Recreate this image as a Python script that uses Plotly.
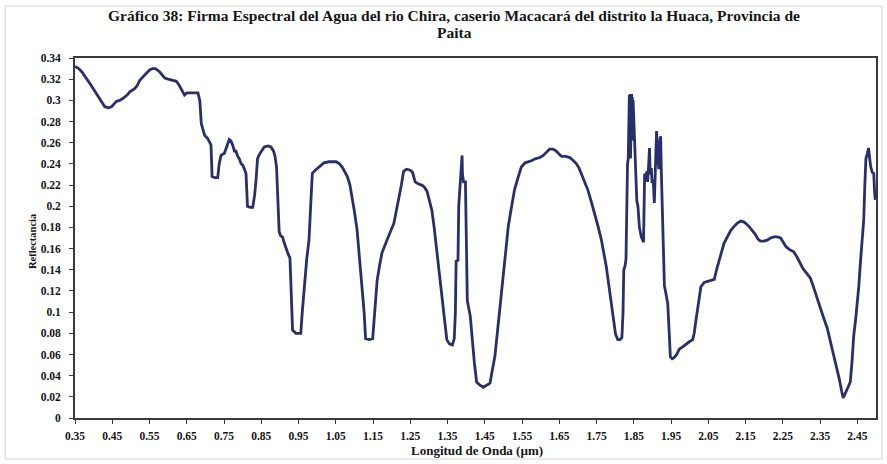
import plotly.graph_objects as go

# Spectral signature samples: wavelength (µm) and reflectance
wavelength = [
    0.350, 0.360, 0.368, 0.381, 0.390, 0.399, 0.408, 0.417, 0.430, 0.440, 0.448, 0.461, 0.470, 0.479,
    0.490, 0.497, 0.510, 0.517, 0.524, 0.537, 0.545, 0.551, 0.558, 0.566, 0.577, 0.585, 0.591, 0.600,
    0.610, 0.622, 0.630, 0.635, 0.644, 0.650, 0.665, 0.680, 0.685, 0.689, 0.698, 0.706, 0.715, 0.718,
    0.725, 0.733, 0.737, 0.742, 0.751, 0.758, 0.764, 0.768, 0.773, 0.778, 0.782, 0.787, 0.791, 0.796,
    0.800, 0.805, 0.809, 0.813, 0.820, 0.827, 0.832, 0.836, 0.840, 0.845, 0.852, 0.858, 0.868, 0.876,
    0.883, 0.887, 0.891, 0.895, 0.898, 0.902, 0.907, 0.912, 0.916, 0.922, 0.927, 0.931, 0.934, 0.943,
    0.956, 0.960, 0.965, 0.972, 0.978, 0.983, 0.987, 0.995, 1.001, 1.010, 1.018, 1.032, 1.051, 1.060,
    1.067, 1.075, 1.081, 1.088, 1.094, 1.100, 1.107, 1.114, 1.121, 1.126, 1.130, 1.140, 1.149, 1.155,
    1.161, 1.168, 1.174, 1.183, 1.192, 1.199, 1.206, 1.212, 1.219, 1.226, 1.232, 1.240, 1.250, 1.256,
    1.263, 1.272, 1.281, 1.288, 1.295, 1.302, 1.308, 1.314, 1.321, 1.328, 1.335, 1.342, 1.348, 1.355,
    1.363, 1.368, 1.371, 1.373, 1.378, 1.380, 1.384, 1.386, 1.389, 1.390, 1.393, 1.398, 1.401, 1.403,
    1.411, 1.416, 1.422, 1.428, 1.437, 1.446, 1.455, 1.464, 1.470, 1.477, 1.485, 1.495, 1.504, 1.513,
    1.522, 1.530, 1.540, 1.548, 1.558, 1.567, 1.575, 1.587, 1.598, 1.607, 1.616, 1.624, 1.633, 1.642,
    1.650, 1.656, 1.667, 1.678, 1.688, 1.696, 1.703, 1.709, 1.718, 1.727, 1.736, 1.745, 1.754, 1.763,
    1.770, 1.776, 1.783, 1.790, 1.794, 1.797, 1.801, 1.807, 1.813, 1.818, 1.821, 1.823, 1.826, 1.829,
    1.831, 1.833, 1.835, 1.836, 1.837, 1.838, 1.839, 1.840, 1.841, 1.842, 1.843, 1.844, 1.845, 1.846,
    1.847, 1.848, 1.850, 1.852, 1.855, 1.858, 1.861, 1.865, 1.870, 1.873, 1.876, 1.879, 1.882, 1.885,
    1.887, 1.890, 1.892, 1.894, 1.897, 1.899, 1.902, 1.905, 1.908, 1.911, 1.914, 1.917, 1.919, 1.922,
    1.924, 1.927, 1.930, 1.932, 1.937, 1.941, 1.945, 1.948, 1.953, 1.958, 1.965, 1.972, 1.980, 1.990,
    1.999, 2.008, 2.012, 2.017, 2.021, 2.026, 2.030, 2.039, 2.048, 2.057, 2.066, 2.072, 2.079, 2.086,
    2.092, 2.101, 2.110, 2.119, 2.128, 2.137, 2.146, 2.153, 2.159, 2.168, 2.177, 2.183, 2.190, 2.199,
    2.208, 2.217, 2.226, 2.235, 2.244, 2.251, 2.258, 2.268, 2.279, 2.288, 2.297, 2.304, 2.311, 2.318,
    2.324, 2.331, 2.338, 2.345, 2.351, 2.360, 2.369, 2.376, 2.382, 2.389, 2.395, 2.402, 2.408, 2.412,
    2.416, 2.420, 2.426, 2.431, 2.436, 2.440, 2.445, 2.449, 2.454, 2.458, 2.463, 2.467, 2.470, 2.473,
    2.477, 2.480, 2.483, 2.486, 2.490, 2.494, 2.496, 2.498,
]

reflectance = [
    0.332, 0.330, 0.327, 0.321, 0.316, 0.311, 0.306, 0.302, 0.294, 0.293, 0.294, 0.299, 0.300, 0.302,
    0.305, 0.308, 0.311, 0.314, 0.319, 0.324, 0.327, 0.329, 0.330, 0.330, 0.327, 0.323, 0.321, 0.320,
    0.319, 0.318, 0.314, 0.311, 0.305, 0.307, 0.307, 0.307, 0.300, 0.278, 0.267, 0.264, 0.258, 0.228,
    0.227, 0.227, 0.240, 0.248, 0.250, 0.257, 0.263, 0.262, 0.258, 0.252, 0.252, 0.247, 0.245, 0.240,
    0.239, 0.235, 0.231, 0.200, 0.199, 0.199, 0.210, 0.225, 0.245, 0.249, 0.253, 0.256, 0.257, 0.256,
    0.252, 0.247, 0.237, 0.190, 0.176, 0.172, 0.171, 0.165, 0.160, 0.155, 0.151, 0.120, 0.083, 0.080,
    0.080, 0.100, 0.124, 0.150, 0.168, 0.200, 0.231, 0.234, 0.236, 0.239, 0.241, 0.242, 0.242, 0.240,
    0.237, 0.232, 0.228, 0.220, 0.209, 0.195, 0.178, 0.152, 0.124, 0.100, 0.075, 0.074, 0.075, 0.105,
    0.130, 0.145, 0.156, 0.164, 0.171, 0.178, 0.184, 0.194, 0.206, 0.220, 0.233, 0.235, 0.234, 0.232,
    0.223, 0.221, 0.220, 0.218, 0.214, 0.205, 0.196, 0.180, 0.159, 0.135, 0.111, 0.090, 0.074, 0.070,
    0.069, 0.075, 0.100, 0.148, 0.149, 0.200, 0.222, 0.225, 0.248, 0.230, 0.223, 0.223, 0.150, 0.111,
    0.096, 0.075, 0.052, 0.034, 0.031, 0.029, 0.031, 0.033, 0.045, 0.058, 0.085, 0.118, 0.150, 0.181,
    0.200, 0.216, 0.228, 0.237, 0.241, 0.242, 0.243, 0.245, 0.246, 0.248, 0.251, 0.254, 0.254, 0.252,
    0.249, 0.247, 0.247, 0.246, 0.243, 0.240, 0.236, 0.231, 0.223, 0.215, 0.204, 0.193, 0.181, 0.168,
    0.156, 0.143, 0.125, 0.108, 0.096, 0.086, 0.079, 0.074, 0.074, 0.076, 0.100, 0.140, 0.143, 0.150,
    0.200, 0.240, 0.245, 0.290, 0.250, 0.305, 0.260, 0.306, 0.245, 0.304, 0.255, 0.306, 0.262, 0.303,
    0.270, 0.300, 0.280, 0.269, 0.240, 0.205, 0.200, 0.180, 0.171, 0.168, 0.166, 0.231, 0.225, 0.233,
    0.223, 0.240, 0.255, 0.230, 0.236, 0.222, 0.225, 0.203, 0.240, 0.271, 0.250, 0.235, 0.260, 0.266,
    0.230, 0.193, 0.140, 0.125, 0.116, 0.108, 0.080, 0.058, 0.056, 0.057, 0.060, 0.065, 0.067, 0.070,
    0.072, 0.074, 0.080, 0.093, 0.102, 0.115, 0.124, 0.128, 0.129, 0.130, 0.131, 0.140, 0.148, 0.158,
    0.165, 0.171, 0.177, 0.181, 0.184, 0.186, 0.185, 0.183, 0.181, 0.177, 0.173, 0.169, 0.167, 0.167,
    0.168, 0.170, 0.171, 0.171, 0.170, 0.166, 0.162, 0.159, 0.157, 0.152, 0.146, 0.141, 0.138, 0.135,
    0.132, 0.125, 0.117, 0.109, 0.102, 0.094, 0.085, 0.075, 0.066, 0.057, 0.047, 0.036, 0.025, 0.019,
    0.022, 0.025, 0.029, 0.034, 0.055, 0.077, 0.092, 0.105, 0.125, 0.146, 0.167, 0.187, 0.220, 0.245,
    0.250, 0.255, 0.245, 0.237, 0.232, 0.231, 0.215, 0.206,
]

x_tick_values = [0.35, 0.45, 0.55, 0.65, 0.75, 0.85, 0.95, 1.05, 1.15, 1.25, 1.35, 1.45,
                 1.55, 1.65, 1.75, 1.85, 1.95, 2.05, 2.15, 2.25, 2.35, 2.45]
x_tick_labels = ["0.35", "0.45", "0.55", "0.65", "0.75", "0.85", "0.95", "1.05", "1.15", "1.25", "1.35",
                 "1.45", "1.55", "1.65", "1.75", "1.85", "1.95", "2.05", "2.15", "2.25", "2.35", "2.45"]
y_tick_values = [0, 0.02, 0.04, 0.06, 0.08, 0.1, 0.12, 0.14, 0.16, 0.18, 0.2, 0.22, 0.24, 0.26,
                 0.28, 0.3, 0.32, 0.34]
y_tick_labels = ["0", "0.02", "0.04", "0.06", "0.08", "0.1", "0.12", "0.14", "0.16", "0.18", "0.2",
                 "0.22", "0.24", "0.26", "0.28", "0.3", "0.32", "0.34"]

title_lines = ["Gráfico 38: Firma Espectral del Agua del rio Chira, caserio Macacará del distrito la Huaca, Provincia de",
               "Paita"]

W, H = 887, 464
ML, MR, MT, MB = 75, 9, 58, 46
serif = "Liberation Serif, Times New Roman, serif"
line_color = "#27306a"
text_color = "#151515"

fig = go.Figure()
fig.add_trace(go.Scatter(
    x=wavelength, y=reflectance, mode="lines",
    line=dict(color=line_color, width=2.8), showlegend=False,
))

pw = W - ML - MR
ph = H - MT - MB


def px_x(p):
    return (p - ML) / pw


def px_y(p):
    return (H - MB - p) / ph


tick_font = dict(family=serif, size=11.5, color=text_color, weight="bold")

fig.update_layout(
    width=W, height=H,
    margin=dict(l=ML, r=MR, t=MT, b=MB),
    paper_bgcolor="white", plot_bgcolor="white",
    font=dict(family=serif, color=text_color),
    xaxis=dict(
        range=[0.35, 2.5], tickvals=x_tick_values, ticktext=x_tick_labels,
        showgrid=False, zeroline=False, showline=True, linecolor="#3a3a3a", linewidth=1.8,
        mirror=True, ticks="outside", ticklen=4, tickcolor="#3a3a3a",
        tickfont=tick_font, ticklabelstandoff=2,
    ),
    yaxis=dict(
        range=[0, 0.34], tickvals=y_tick_values, ticktext=y_tick_labels,
        showgrid=False, zeroline=False, showline=True, linecolor="#3a3a3a", linewidth=1.8,
        mirror=True, ticks="outside", ticklen=4, tickcolor="#3a3a3a",
        tickfont=tick_font, ticklabelstandoff=6,
    ),
    shapes=[dict(
        type="rect", xref="paper", yref="paper",
        x0=px_x(5), x1=px_x(884), y0=px_y(459), y1=px_y(6),
        line=dict(color="#d4d4d4", width=1), layer="below",
    )],
    annotations=[
        dict(text=title_lines[0], xref="paper", yref="paper", x=px_x(455), y=px_y(16),
             showarrow=False, xanchor="center", yanchor="middle",
             font=dict(family=serif, size=15.5, color=text_color, weight="bold")),
        dict(text=title_lines[1], xref="paper", yref="paper", x=px_x(455), y=px_y(32),
             showarrow=False, xanchor="center", yanchor="middle",
             font=dict(family=serif, size=15.5, color=text_color, weight="bold")),
        dict(text="Longitud de Onda (µm)", xref="paper", yref="paper", x=px_x(478), y=px_y(451),
             showarrow=False, xanchor="center", yanchor="middle",
             font=dict(family=serif, size=13, color=text_color, weight="bold")),
        dict(text="Reflectancia", xref="paper", yref="paper", x=px_x(32), y=px_y(241),
             showarrow=False, xanchor="center", yanchor="middle", textangle=-90,
             font=dict(family=serif, size=10.5, color=text_color, weight="bold")),
    ],
)

fig.write_html("out.html")
